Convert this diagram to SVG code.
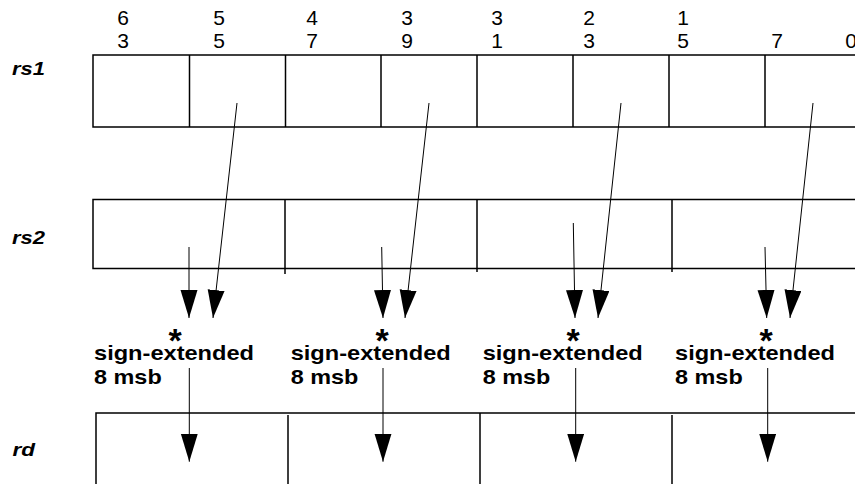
<svg xmlns="http://www.w3.org/2000/svg" width="855" height="484" viewBox="0 0 855 484">
<style>
.box{fill:none;stroke:#000;stroke-width:1.5}
.div{stroke:#000;stroke-width:1.5}
.arr{stroke:#000;stroke-width:1;fill:none;marker-end:url(#ah)}
.lbl{font-family:"Liberation Sans",Arial,sans-serif;font-weight:bold;font-style:italic;font-size:18px}
.num{font-family:"Liberation Sans",Arial,sans-serif;font-size:21px;text-anchor:middle}
.se{font-family:"Liberation Sans",Arial,sans-serif;font-weight:bold;font-size:21px}
.ast{font-family:"Liberation Sans",Arial,sans-serif;font-weight:bold;font-size:34px;text-anchor:middle}
</style>
<defs>
<marker id="ah" markerUnits="userSpaceOnUse" markerWidth="30" markerHeight="18" refX="28" refY="8.5" orient="auto">
<path d="M0,0 L28,8.5 L0,17 Z" fill="#000"/>
</marker>
</defs>
<rect width="855" height="484" fill="#fff"/>

<g id="bit-labels">
<text class="num" x="123" y="25">6</text><text class="num" x="123" y="48">3</text>
<text class="num" x="219" y="25">5</text><text class="num" x="219" y="48">5</text>
<text class="num" x="312" y="25">4</text><text class="num" x="312" y="48">7</text>
<text class="num" x="407" y="25">3</text><text class="num" x="407" y="48">9</text>
<text class="num" x="497" y="25">3</text><text class="num" x="497" y="48">1</text>
<text class="num" x="589" y="25">2</text><text class="num" x="589" y="48">3</text>
<text class="num" x="683" y="25">1</text><text class="num" x="683" y="48">5</text>
<text class="num" x="777" y="48">7</text>
<text class="num" x="851" y="48">0</text>
</g>

<g id="rs1">
<text class="lbl" x="12" y="75" textLength="33" lengthAdjust="spacingAndGlyphs">rs1</text>
<path class="box" d="M856,55 H93 V127 H856"/>
<path class="div" d="M189.5,55 V127 M285.5,55 V127 M381,55 V127 M477,55 V127 M573,55 V127 M669,55 V127 M765,55 V127"/>
</g>

<g id="rs2">
<text class="lbl" x="12" y="244" textLength="33" lengthAdjust="spacingAndGlyphs">rs2</text>
<path class="box" d="M856,199.5 H93 V268.5 H856"/>
<path class="div" d="M285,199.5 V274 M477,199.5 V272 M672,199.5 V272"/>
</g>

<g id="rd">
<text class="lbl" x="12.5" y="456" font-size="19" textLength="22.5" lengthAdjust="spacingAndGlyphs">rd</text>
<path class="box" d="M856,413 H96 V484"/>
<path class="div" d="M288,415 V484 M480,413 V484 M672,415 V484"/>
</g>

<g id="mult-labels">
<text class="ast" x="175" y="352">*</text>
<text class="ast" x="382" y="352">*</text>
<text class="ast" x="573" y="352">*</text>
<text class="ast" x="766" y="352">*</text>
<text class="se" x="94" y="360" textLength="160" lengthAdjust="spacingAndGlyphs">sign-extended</text>
<text class="se" x="94" y="384" textLength="67.7" lengthAdjust="spacingAndGlyphs">8 msb</text>
<text class="se" x="290.7" y="360" textLength="160" lengthAdjust="spacingAndGlyphs">sign-extended</text>
<text class="se" x="290.7" y="384" textLength="67.7" lengthAdjust="spacingAndGlyphs">8 msb</text>
<text class="se" x="482.7" y="360" textLength="160" lengthAdjust="spacingAndGlyphs">sign-extended</text>
<text class="se" x="482.7" y="384" textLength="67.7" lengthAdjust="spacingAndGlyphs">8 msb</text>
<text class="se" x="675" y="360" textLength="160" lengthAdjust="spacingAndGlyphs">sign-extended</text>
<text class="se" x="675" y="384" textLength="67.7" lengthAdjust="spacingAndGlyphs">8 msb</text>
</g>

<g id="connectors">
<path class="arr" d="M237,103 L213,318"/>
<path class="arr" d="M429,103 L405,318"/>
<path class="arr" d="M621,103 L598,318"/>
<path class="arr" d="M813,103 L790,318"/>
<path class="arr" d="M189,247 L189,318"/>
<path class="arr" d="M381.7,247 L383,318"/>
<path class="arr" d="M573.3,223 L575,318"/>
<path class="arr" d="M765,247 L766.7,318"/>
<path class="arr" d="M189.3,368 L189.3,461.7"/>
<path class="arr" d="M383,368 L383,461.7"/>
<path class="arr" d="M575.7,368 L575.7,461.7"/>
<path class="arr" d="M767.7,368 L767.7,461.7"/>
</g>
</svg>
